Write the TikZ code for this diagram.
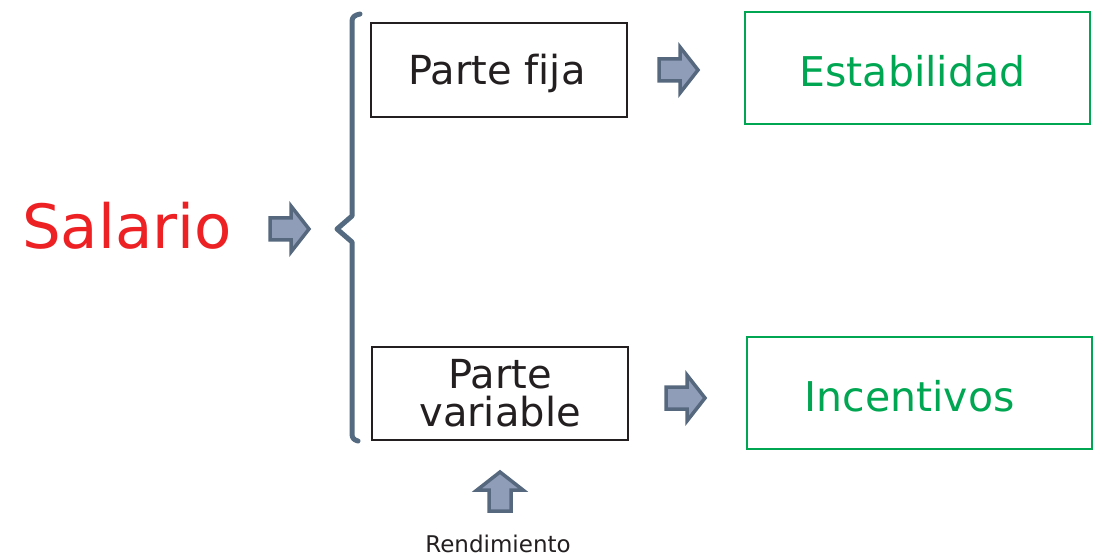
\documentclass[tikz,border=0pt]{standalone}
\usepackage{fontspec}
\setmainfont{DejaVu Sans}[Ligatures=NoCommon]
\definecolor{salred}{HTML}{ED2024}
\definecolor{salgreen}{HTML}{00A651}
\definecolor{braceblue}{HTML}{546A80}
\definecolor{arrowedge}{HTML}{56687E}
\definecolor{arrowfill}{HTML}{8F9DB8}
\definecolor{txt}{HTML}{231F20}
\newcommand\blockarr[3]{%
  \coordinate (#1) at #2;
  \draw[barrow, shift={(#1)}, rotate=#3] (-19,-11) -- (2,-11) -- (2,-23) -- (20,0) -- (2,23) -- (2,11) -- (-19,11) -- cycle;}
\begin{document}
\begin{tikzpicture}[x=1pt,y=-1pt,
  barrow/.style={draw=arrowedge, fill=arrowfill, line width=3.5pt, line join=miter},
  blackbox/.style={draw=txt, line width=1.8pt, inner sep=0pt},
  greenbox/.style={draw=salgreen, line width=1.8pt, inner sep=0pt},
  blacktext/.style={text=txt, font=\fontsize{40}{38}\selectfont, align=center, inner sep=0pt},
  greentext/.style={text=salgreen, font=\fontsize{41}{41}\selectfont, inner sep=0pt}]
\useasboundingbox (0,0) rectangle (1095,556);
\node[anchor=base west, text=salred, font=\fontsize{61}{61}\selectfont, inner sep=0pt] (sal) at (22,248) {Salario};
\blockarr{a1}{(289,229)}{0}
\draw[braceblue, line width=5pt, line cap=round, line join=round] (360,14) .. controls (355,15) and (352,17) .. (352,21) -- (352,216) -- (337,229) -- (352,242) -- (352,434) .. controls (352,438) and (354,440) .. (358,441);
\node[blackbox, minimum width=256, minimum height=94] (fija) at (499,70) {};
\node[blacktext] (fijat) at ([shift={(-2,3)}]fija.center) {Parte fija};
\blockarr{a2}{(678,70)}{0}
\node[greenbox, minimum width=345, minimum height=112] (estab) at (917.5,68) {};
\node[greentext] (estabt) at ([shift={(-5,3)}]estab.center) {Estabilidad};
\node[blackbox, minimum width=256, minimum height=93] (var) at (500,393.5) {};
\node[blacktext] (vart) at (var.center) {Parte\\variable};
\blockarr{a3}{(685,398)}{0}
\node[greenbox, minimum width=345, minimum height=112] (inc) at (919.5,393) {};
\node[greentext] (inct) at ([shift={(-10,3)}]inc.center) {Incentivos};
\blockarr{a4}{(500,492)}{90}
\node[anchor=base, text=txt, font=\fontsize{23}{23}\selectfont, inner sep=0pt] (rend) at (498,552) {Rendimiento};
\end{tikzpicture}
\end{document}
